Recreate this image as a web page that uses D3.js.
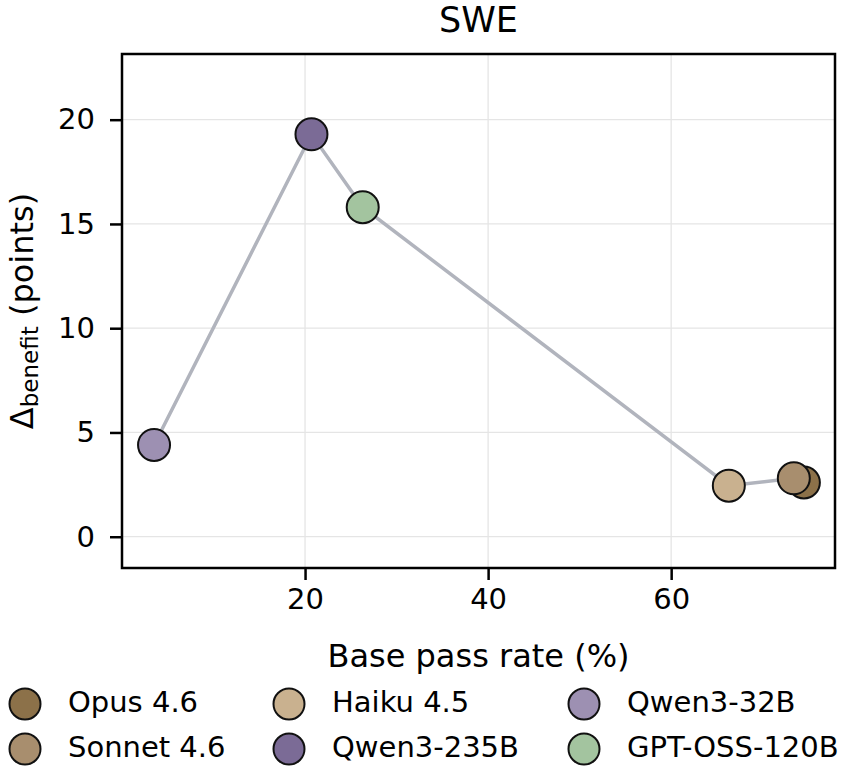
<!DOCTYPE html>
<html>
<head>
<meta charset="utf-8">
<script src="https://cdn.jsdelivr.net/npm/d3@7"></script>
<style>
  body { margin: 0; background: #fff; }
  text { font-family: "DejaVu Sans", sans-serif; fill: #000; }
</style>
</head>
<body>
<div id="chart"></div>
<script>
// data
var models = ["Opus 4.6", "Sonnet 4.6", "Haiku 4.5", "Qwen3-235B", "Qwen3-32B", "GPT-OSS-120B"];
var basePass = [74.5, 73.4, 66.3, 20.7, 3.5, 26.3];
var benefit = [2.6, 2.8, 2.45, 19.3, 4.4, 15.8];
var colors = ["#8c7149", "#a88e6e", "#c9b18f", "#7b6b96", "#9d90b2", "#a3c49f"];
var xTicks = [20, 40, 60];
var yTicks = [0, 5, 10, 15, 20];

var W = 845, H = 771;
var margin = { top: 54, right: 10, bottom: 203, left: 122 };
var w = W - margin.left - margin.right;  // plot width
var h = H - margin.top - margin.bottom;  // plot height

var svg = d3.select("#chart").append("svg")
    .attr("width", W)
    .attr("height", H);

var g = svg.append("g")
    .attr("transform", "translate(" + margin.left + "," + margin.top + ")");

var xScale = d3.scaleLinear().domain([0, 77.9]).range([0, w]);
var yScale = d3.scaleLinear().domain([-1.5, 23.15]).range([h, 0]);

// grid
g.selectAll(".vgrid").data(xTicks).enter().append("line")
    .attr("x1", d => xScale(d)).attr("x2", d => xScale(d))
    .attr("y1", 0).attr("y2", h)
    .attr("stroke", "#e5e5e5").attr("stroke-width", 1.3);
g.selectAll(".hgrid").data(yTicks).enter().append("line")
    .attr("y1", d => yScale(d)).attr("y2", d => yScale(d))
    .attr("x1", 0).attr("x2", w)
    .attr("stroke", "#e5e5e5").attr("stroke-width", 1.3);

// axes
var xAxis = d3.axisBottom(xScale).tickValues(xTicks).tickSize(12).tickPadding(8);
var yAxis = d3.axisLeft(yScale).tickValues(yTicks).tickSize(12).tickPadding(15);

var gx = g.append("g").attr("transform", "translate(0," + h + ")").call(xAxis);
var gy = g.append("g").call(yAxis);
[gx, gy].forEach(function (a) {
    a.select(".domain").remove();
    a.selectAll(".tick line").attr("stroke", "#000").attr("stroke-width", 2.5);
    a.selectAll(".tick text").attr("font-size", 29).attr("font-family", "DejaVu Sans").attr("fill", "#000");
});

// connecting line, sorted by base pass rate
var order = d3.range(models.length).sort((a, b) => basePass[a] - basePass[b]);
var line = d3.line()
    .x(i => xScale(basePass[i]))
    .y(i => yScale(benefit[i]));
g.append("path")
    .datum(order)
    .attr("d", line)
    .attr("fill", "none")
    .attr("stroke", "#b1b4bd")
    .attr("stroke-width", 3.5);

// points
g.selectAll(".pt").data(d3.range(models.length)).enter().append("circle")
    .attr("cx", i => xScale(basePass[i]))
    .attr("cy", i => yScale(benefit[i]))
    .attr("r", 16)
    .attr("fill", i => colors[i])
    .attr("stroke", "#111")
    .attr("stroke-width", 2);

// frame
g.append("rect")
    .attr("width", w).attr("height", h)
    .attr("fill", "none")
    .attr("stroke", "#000")
    .attr("stroke-width", 2.5);

// title
svg.append("text")
    .attr("x", margin.left + w / 2)
    .attr("y", 32)
    .attr("text-anchor", "middle")
    .attr("font-size", 35)
    .text("SWE");

// x label
svg.append("text")
    .attr("x", margin.left + w / 2)
    .attr("y", 667)
    .attr("text-anchor", "middle")
    .attr("font-size", 32)
    .text("Base pass rate (%)");

// y label with subscript
var yl = svg.append("text")
    .attr("transform", "translate(33," + (margin.top + h / 2) + ") rotate(-90)")
    .attr("text-anchor", "middle")
    .attr("font-size", 32);
yl.append("tspan").text("\u0394");
yl.append("tspan").attr("font-size", 23).attr("dy", 5).text("benefit");
yl.append("tspan").attr("dy", -5).text(" (points)");

// legend, column-major 3 x 2
var legX = [25, 289, 584];
var legY = [704, 749];
var leg = svg.selectAll(".leg").data(d3.range(models.length)).enter().append("g")
    .attr("transform", i => "translate(" + legX[Math.floor(i / 2)] + "," + legY[i % 2] + ")");
leg.append("circle")
    .attr("r", 15.5)
    .attr("fill", i => colors[i])
    .attr("stroke", "#111")
    .attr("stroke-width", 2);
leg.append("text")
    .attr("x", 43)
    .attr("y", 7.5)
    .attr("font-size", 29)
    .text(i => models[i]);
</script>
</body>
</html>
